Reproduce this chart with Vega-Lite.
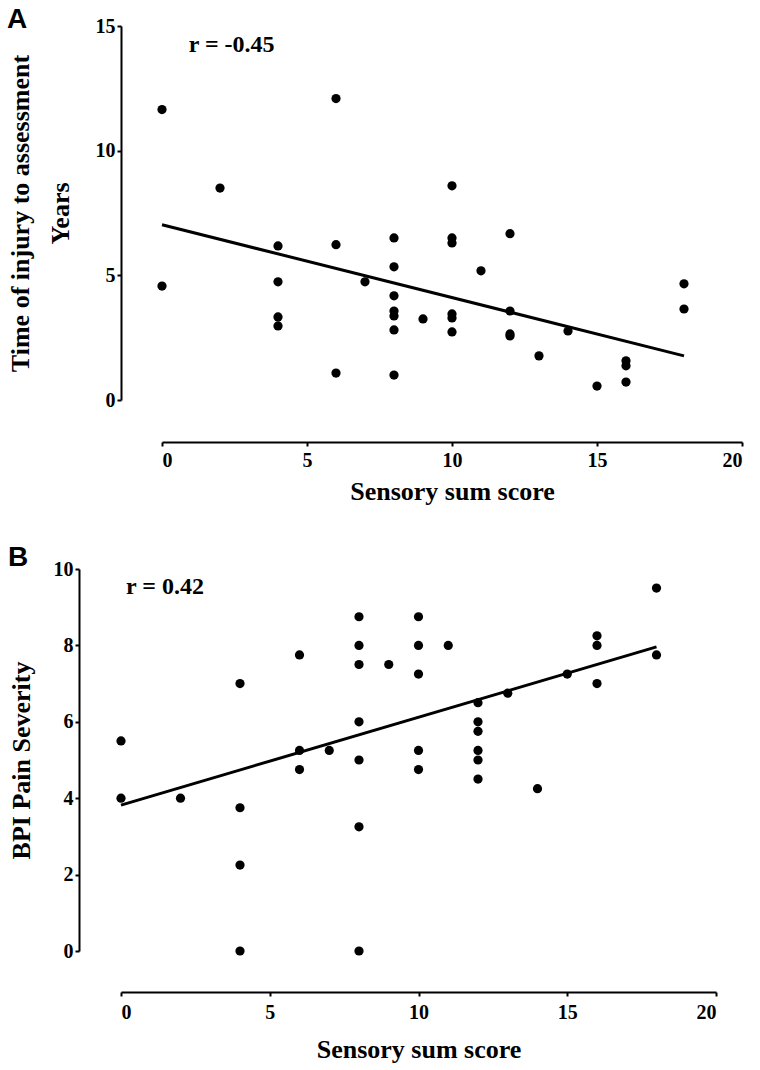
{
  "$schema": "https://vega.github.io/schema/vega-lite/v6.json",
  "padding": {"left": 7, "top": 6, "right": 5, "bottom": 2},
  "background": "white",
  "columns": 1,
  "spacing": 40,
  "config": {
    "view": {"stroke": null},
    "axis": {
      "grid": false,
      "domainColor": "black",
      "domainWidth": 2,
      "tickColor": "black",
      "tickWidth": 2,
      "tickSize": 4,
      "labelFont": "Liberation Serif",
      "labelFontWeight": "bold",
      "labelFontSize": 20,
      "labelColor": "black",
      "titleFont": "Liberation Serif",
      "titleFontWeight": "bold",
      "titleFontSize": 26,
      "titleColor": "black"
    },
    "title": {"font": "Liberation Sans", "fontWeight": "bold", "fontSize": 28, "color": "black", "anchor": "start", "frame": "bounds"}
  },
  "datasets": {
    "aPoints": [
      {"sensory": 0, "years": 11.65}, {"sensory": 0, "years": 4.57},
      {"sensory": 2, "years": 8.5},
      {"sensory": 4, "years": 6.18}, {"sensory": 4, "years": 4.74}, {"sensory": 4, "years": 3.33}, {"sensory": 4, "years": 2.97},
      {"sensory": 6, "years": 12.09}, {"sensory": 6, "years": 6.23}, {"sensory": 6, "years": 1.08},
      {"sensory": 7, "years": 4.74},
      {"sensory": 8, "years": 6.5}, {"sensory": 8, "years": 5.34}, {"sensory": 8, "years": 4.18}, {"sensory": 8, "years": 3.57}, {"sensory": 8, "years": 3.37}, {"sensory": 8, "years": 2.81}, {"sensory": 8, "years": 1.0},
      {"sensory": 9, "years": 3.25},
      {"sensory": 10, "years": 8.59}, {"sensory": 10, "years": 6.5}, {"sensory": 10, "years": 6.3}, {"sensory": 10, "years": 3.45}, {"sensory": 10, "years": 3.29}, {"sensory": 10, "years": 2.73},
      {"sensory": 11, "years": 5.18},
      {"sensory": 12, "years": 6.67}, {"sensory": 12, "years": 3.57}, {"sensory": 12, "years": 2.65}, {"sensory": 12, "years": 2.57},
      {"sensory": 13, "years": 1.77},
      {"sensory": 14, "years": 2.77},
      {"sensory": 15, "years": 0.56},
      {"sensory": 16, "years": 1.57}, {"sensory": 16, "years": 1.37}, {"sensory": 16, "years": 0.72},
      {"sensory": 18, "years": 4.66}, {"sensory": 18, "years": 3.65}
    ],
    "aFit": [{"sensory": 0, "years": 7.03}, {"sensory": 18, "years": 1.77}],
    "aLabel": [{"sensory": 2.4, "years": 14.25, "label": "r = -0.45"}],
    "bPoints": [
      {"sensory": 0, "bpi": 5.5}, {"sensory": 0, "bpi": 4.0},
      {"sensory": 2, "bpi": 4.0},
      {"sensory": 4, "bpi": 7.0}, {"sensory": 4, "bpi": 3.75}, {"sensory": 4, "bpi": 2.25}, {"sensory": 4, "bpi": 0},
      {"sensory": 6, "bpi": 7.75}, {"sensory": 6, "bpi": 5.25}, {"sensory": 6, "bpi": 4.75},
      {"sensory": 7, "bpi": 5.25},
      {"sensory": 8, "bpi": 8.75}, {"sensory": 8, "bpi": 8.0}, {"sensory": 8, "bpi": 7.5}, {"sensory": 8, "bpi": 6.0}, {"sensory": 8, "bpi": 5.0}, {"sensory": 8, "bpi": 3.25}, {"sensory": 8, "bpi": 0},
      {"sensory": 9, "bpi": 7.5},
      {"sensory": 10, "bpi": 8.75}, {"sensory": 10, "bpi": 8.0}, {"sensory": 10, "bpi": 7.25}, {"sensory": 10, "bpi": 5.25}, {"sensory": 10, "bpi": 4.75},
      {"sensory": 11, "bpi": 8.0},
      {"sensory": 12, "bpi": 6.5}, {"sensory": 12, "bpi": 6.0}, {"sensory": 12, "bpi": 5.75}, {"sensory": 12, "bpi": 5.25}, {"sensory": 12, "bpi": 5.0}, {"sensory": 12, "bpi": 4.5},
      {"sensory": 13, "bpi": 6.75},
      {"sensory": 14, "bpi": 4.25},
      {"sensory": 15, "bpi": 7.25},
      {"sensory": 16, "bpi": 8.25}, {"sensory": 16, "bpi": 8.0}, {"sensory": 16, "bpi": 7.0},
      {"sensory": 18, "bpi": 9.5}, {"sensory": 18, "bpi": 7.75}
    ],
    "bFit": [{"sensory": 0, "bpi": 3.82}, {"sensory": 18, "bpi": 7.96}],
    "bLabel": [{"sensory": 1.48, "bpi": 9.53, "label": "r = 0.42"}]
  },
  "concat": [
    {
      "title": {"text": "A", "offset": -18},
      "width": 621,
      "height": 374,
      "encoding": {
        "x": {
          "field": "sensory", "type": "quantitative",
          "scale": {"domain": [0, 20], "nice": false, "zero": false, "range": [41, 621]},
          "axis": {"title": "Sensory sum score", "values": [0, 5, 10, 15, 20], "offset": 42, "labelPadding": 4, "titlePadding": 8}
        },
        "y": {
          "field": "years", "type": "quantitative",
          "scale": {"domain": [0, 15], "nice": false},
          "axis": {"title": ["Time of injury to assessment", "Years"], "titleLineHeight": 40, "values": [0, 5, 10, 15], "offset": 0, "labelPadding": 2, "titlePadding": 22}
        }
      },
      "layer": [
        {"data": {"name": "aPoints"}, "mark": {"type": "circle", "size": 85, "color": "black", "opacity": 1}},
        {"data": {"name": "aFit"}, "mark": {"type": "line", "color": "black", "strokeWidth": 3}},
        {"data": {"name": "aLabel"}, "mark": {"type": "text", "font": "Liberation Serif", "fontWeight": "bold", "fontSize": 24, "color": "black", "align": "center", "baseline": "middle"}, "encoding": {"text": {"field": "label"}}}
      ]
    },
    {
      "title": {"text": "B", "offset": -13},
      "width": 595,
      "height": 382,
      "encoding": {
        "x": {
          "field": "sensory", "type": "quantitative",
          "scale": {"domain": [0, 20], "nice": false, "zero": false},
          "axis": {"title": "Sensory sum score", "values": [0, 5, 10, 15, 20], "offset": 41, "labelPadding": 6, "titlePadding": 14}
        },
        "y": {
          "field": "bpi", "type": "quantitative",
          "scale": {"domain": [0, 10], "nice": false},
          "axis": {"title": "BPI Pain Severity", "values": [0, 2, 4, 6, 8, 10], "offset": 42, "labelPadding": 2, "titlePadding": 19}
        }
      },
      "layer": [
        {"data": {"name": "bPoints"}, "mark": {"type": "circle", "size": 85, "color": "black", "opacity": 1}},
        {"data": {"name": "bFit"}, "mark": {"type": "line", "color": "black", "strokeWidth": 3}},
        {"data": {"name": "bLabel"}, "mark": {"type": "text", "font": "Liberation Serif", "fontWeight": "bold", "fontSize": 24, "color": "black", "align": "center", "baseline": "middle"}, "encoding": {"text": {"field": "label"}}}
      ]
    }
  ]
}
